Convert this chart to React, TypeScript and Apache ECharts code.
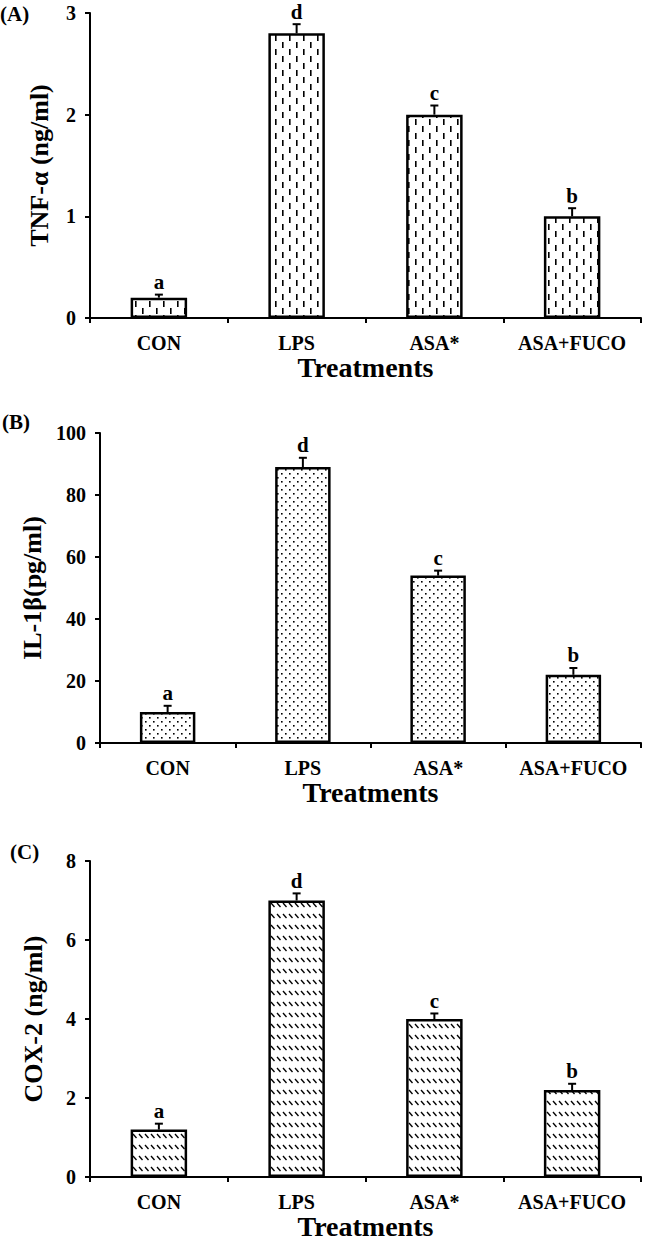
import React, { useEffect, useRef } from "react";
import * as echarts from "echarts";

const categories = ["CON", "LPS", "ASA*", "ASA+FUCO"];
const letters = ["a", "d", "c", "b"];

const tnfValues = [0.2, 2.8, 2.0, 1.0];
const tnfErrors = [0.03, 0.09, 0.09, 0.08];

const il1bValues = [10, 89, 54, 22];
const il1bErrors = [2, 3, 1.6, 2.2];

const cox2Values = [1.2, 7.0, 4.0, 2.2];
const cox2Errors = [0.15, 0.18, 0.14, 0.16];

const panelLabels = ["(A)", "(B)", "(C)"];
const yTitles = ["TNF-\u03b1 (ng/ml)", "IL-1\u03b2(pg/ml)", "COX-2 (ng/ml)"];
const xTitle = "Treatments";

const FONT = '"Liberation Serif", "Times New Roman", serif';

function makePattern(kind: string) {
  const c = document.createElement("canvas");
  let w = 14, h = 14;
  if (kind === "dots") { w = 8; h = 8; }
  if (kind === "diag") { w = 6; h = 11; }
  c.width = w; c.height = h;
  const ctx = c.getContext("2d")!;
  ctx.fillStyle = "#fff";
  ctx.fillRect(0, 0, w, h);
  ctx.fillStyle = "#000";
  ctx.strokeStyle = "#000";
  if (kind === "dash") {
    ctx.fillRect(2, 0, 1.6, 6);
    ctx.fillRect(9, 7, 1.6, 6);
  } else if (kind === "dots") {
    ctx.fillRect(1, 1, 1.6, 1.6);
    ctx.fillRect(5, 5, 1.6, 1.6);
  } else {
    ctx.lineWidth = 1.3;
    ctx.beginPath();
    ctx.moveTo(1, 1);
    ctx.lineTo(4.5, 5);
    ctx.stroke();
  }
  return { image: c.toDataURL(), repeat: "repeat", imageWidth: w, imageHeight: h };
}

export default function App() {
  const ref = useRef<HTMLDivElement>(null);
  useEffect(() => {
    document.body.style.margin = "0";
    const chart = echarts.init(ref.current!, null, { renderer: "svg" });
    const grids = [
      { left: 90, top: 13, right: 5, height: 305 },
      { left: 100, top: 433, right: 5, height: 310 },
      { left: 90, top: 861, right: 5, height: 316 },
    ];
    const yCfg = [
      { max: 3, interval: 1 },
      { max: 100, interval: 20 },
      { max: 8, interval: 2 },
    ];
    const nameGaps = [38, 50, 44];
    const values = [tnfValues, il1bValues, cox2Values];
    const errors = [tnfErrors, il1bErrors, cox2Errors];
    const patterns = [makePattern("dash"), makePattern("dots"), makePattern("diag")];
    const axisLine = { show: true, lineStyle: { color: "#000", width: 2 } };
    const axisTick = { show: true, length: 5, lineStyle: { color: "#000", width: 2 } };

    const series: any[] = [];
    values.forEach((vals, i) => {
      series.push({
        type: "bar",
        xAxisIndex: i,
        yAxisIndex: i,
        barWidth: "41%",
        data: vals,
        itemStyle: { color: patterns[i], borderColor: "#000", borderWidth: 2.5 },
        z: 2,
      });
      series.push({
        type: "custom",
        xAxisIndex: i,
        yAxisIndex: i,
        z: 3,
        data: vals.map((v, k) => [k, v, errors[i][k]]),
        renderItem: (params: any, api: any) => {
          const x = api.value(0);
          const v = api.value(1);
          const e = api.value(2);
          const base = api.coord([x, v]);
          const top = api.coord([x, v + e]);
          return {
            type: "group",
            children: [
              { type: "line", shape: { x1: base[0], y1: base[1], x2: top[0], y2: top[1] }, style: { stroke: "#000", lineWidth: 2 } },
              { type: "line", shape: { x1: top[0] - 4, y1: top[1], x2: top[0] + 4, y2: top[1] }, style: { stroke: "#000", lineWidth: 2 } },
              {
                type: "text",
                x: top[0],
                y: top[1] - 2,
                style: { text: letters[params.dataIndex], fill: "#000", font: `bold 21px ${FONT}`, align: "center", verticalAlign: "bottom" },
              },
            ],
          };
        },
      });
    });

    const option: any = {
      animation: false,
      backgroundColor: "#fff",
      grid: grids,
      xAxis: grids.map((_, i) => ({
        type: "category",
        gridIndex: i,
        data: categories,
        axisLine,
        axisTick,
        axisLabel: { color: "#000", fontFamily: FONT, fontWeight: "bold", fontSize: 20, margin: 15, interval: 0 },
        name: xTitle,
        nameLocation: "middle",
        nameGap: 35,
        nameTextStyle: { color: "#000", fontFamily: FONT, fontWeight: "bold", fontSize: 28 },
        splitLine: { show: false },
      })),
      yAxis: grids.map((_, i) => ({
        type: "value",
        gridIndex: i,
        min: 0,
        max: yCfg[i].max,
        interval: yCfg[i].interval,
        axisLine,
        axisTick,
        axisLabel: { color: "#000", fontFamily: FONT, fontWeight: "bold", fontSize: 20, margin: 14 },
        splitLine: { show: false },
        name: yTitles[i],
        nameLocation: "middle",
        nameGap: nameGaps[i],
        nameTextStyle: { color: "#000", fontFamily: FONT, fontWeight: "bold", fontSize: 26 },
      })),
      graphic: [
        { type: "text", left: 0, top: 3, style: { text: panelLabels[0], fill: "#000", font: `bold 21px ${FONT}` } },
        { type: "text", left: 2, top: 411, style: { text: panelLabels[1], fill: "#000", font: `bold 21px ${FONT}` } },
        { type: "text", left: 10, top: 841, style: { text: panelLabels[2], fill: "#000", font: `bold 21px ${FONT}` } },
      ],
      series,
    };
    chart.setOption(option);
    return () => chart.dispose();
  }, []);
  return <div ref={ref} style={{ width: 646, height: 1248 }} />;
}
